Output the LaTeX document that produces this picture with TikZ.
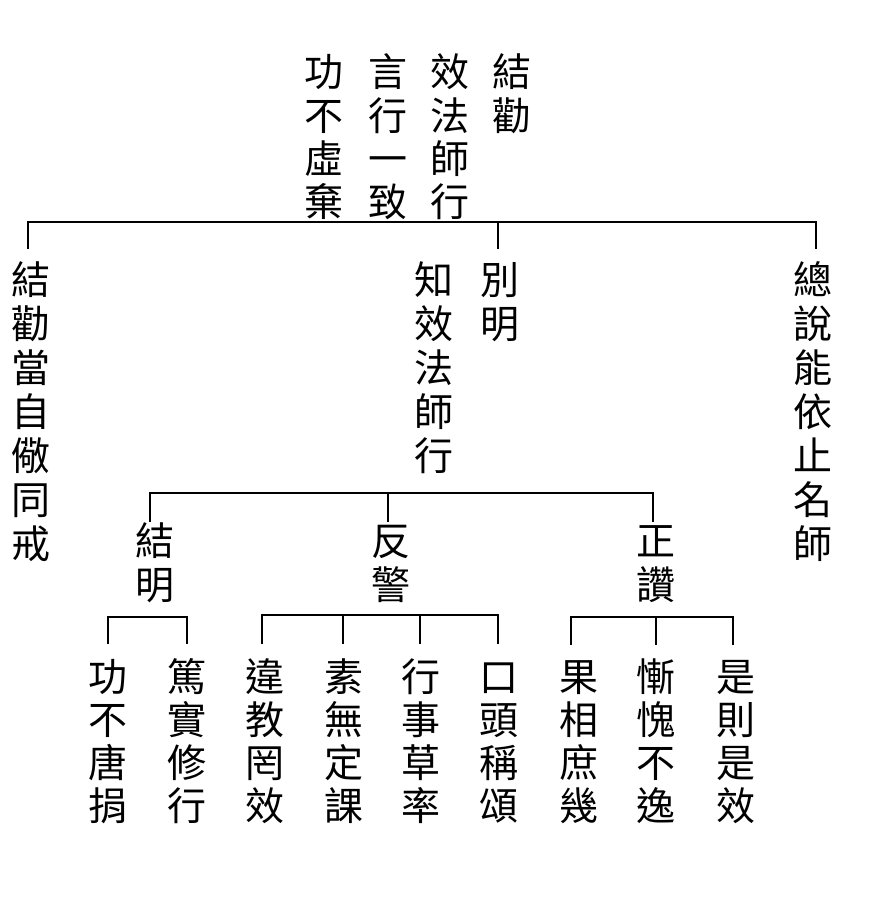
\documentclass[tikz,border=0pt]{standalone}
\usepackage{fontspec}
\newfontfamily\cjk{Noto Sans CJK TC}
\tikzset{
  ch/.style={inner sep=0pt, outer sep=0pt, font=\cjk\fontsize{39}{39}\selectfont,
    text height=34.3pt, text depth=4.7pt, anchor=center},
  conn/.style={draw=black, line width=2.2pt, line cap=rect}
}
% vertical column of characters: name, x, y of first char, pitch, chars
\newcommand\vcol[5]{%
  \foreach \c [count=\i] in {#5} {%
    \node[ch] (#1\i) at (#2,{#3+(\i-1)*#4}) {\c};%
  }%
}
% bracket drops: name, y of bar, y of drop end, list of x
\newcommand\brk[4]{%
  \foreach \xx [count=\i] in {#4} {%
    \coordinate (#1t\i) at (\xx,#2);%
    \coordinate (#1b\i) at (\xx,#3);%
    \draw[conn] (#1t\i) -- (#1b\i);%
  }%
}
\begin{document}
\begin{tikzpicture}[x=1pt,y=-1pt]
\useasboundingbox[fill=white] (0,0) rectangle (872,902);

% top title, read right to left
\vcol{ta}{512}{72}{43.3}{結,勸}
\vcol{tb}{450}{72}{43.3}{效,法,師,行}
\vcol{tc}{388}{72}{43.3}{言,行,一,致}
\vcol{td}{324}{72}{43.3}{功,不,虛,棄}

% level 1
\brk{p}{222}{248}{28,498,816}
\draw[conn] (pt1) -- (pt3);
\vcol{a}{31}{280}{44}{結,勸,當,自,儆,同,戒}
\vcol{ba}{500}{280}{44}{別,明}
\vcol{bb}{434}{280}{44}{知,效,法,師,行}
\vcol{c}{813}{280}{44}{總,說,能,依,止,名,師}

% level 2
\brk{q}{493}{521}{150,388,653}
\draw[conn] (qt1) -- (qt3);
\vcol{d}{155}{541}{44}{結,明}
\vcol{e}{391}{541}{44}{反,警}
\vcol{f}{656}{541}{44}{正,讚}

% level 3
\brk{r}{617}{643}{108,187}
\draw[conn] (rt1) -- (rt2);
\brk{s}{615}{643}{262,343,420,498}
\draw[conn] (st1) -- (st4);
\brk{u}{617}{644}{571,656,733}
\draw[conn] (ut1) -- (ut3);

\vcol{ga}{108}{677}{43}{功,不,唐,捐}
\vcol{gb}{187}{677}{43}{篤,實,修,行}
\vcol{ha}{265}{677}{43}{違,教,罔,效}
\vcol{hb}{344}{677}{43}{素,無,定,課}
\vcol{hc}{421}{677}{43}{行,事,草,率}
\vcol{hd}{499}{677}{43}{口,頭,稱,頌}
\vcol{ia}{579}{677}{43}{果,相,庶,幾}
\vcol{ib}{656}{677}{43}{慚,愧,不,逸}
\vcol{ic}{736}{677}{43}{是,則,是,效}
\end{tikzpicture}
\end{document}
